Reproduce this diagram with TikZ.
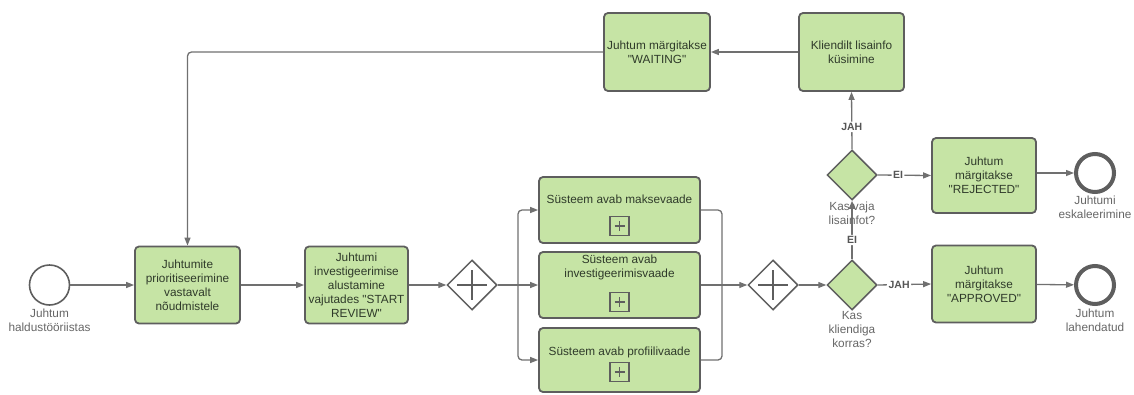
\documentclass[tikz,border=0pt]{standalone}
\usepackage{fontspec}
\setmainfont{Liberation Sans}[Ligatures=TeXOff]
\usetikzlibrary{shapes.geometric,arrows.meta}

\definecolor{taskgreen}{HTML}{C6E4A5}
\definecolor{boxline}{HTML}{5E5E5E}
\definecolor{flowline}{HTML}{707070}
\definecolor{tasktext}{HTML}{2F3A2A}
\definecolor{labeltext}{HTML}{666666}
\definecolor{edgetext}{HTML}{555555}

\newcommand{\boxfont}{\fontsize{11.8}{14}\selectfont}
\newcommand{\edgefont}{\fontsize{10.5}{12}\selectfont\bfseries}

\tikzset{
  task/.style={draw=boxline, line width=1.8pt, fill=taskgreen, rounded corners=4pt,
    text=tasktext, font=\boxfont, align=center, inner sep=1pt},
  txt/.style={text=tasktext, font=\boxfont, align=center, inner sep=0pt},
  evlabel/.style={text=labeltext, font=\boxfont, align=center, inner sep=0pt},
  elabel/.style={text=edgetext, font=\edgefont, fill=white, inner sep=1.5pt},
  startev/.style={circle, draw=boxline, line width=1.6pt, fill=white,
    minimum size=40pt, inner sep=0pt},
  endev/.style={circle, draw=boxline, line width=4pt, fill=white,
    minimum size=38pt, inner sep=0pt},
  gate/.style={diamond, draw=boxline, line width=1.5pt, minimum width=50pt,
    minimum height=50pt, inner sep=0pt},
  pargate/.style={gate, fill=white,
    path picture={\draw[boxline, line width=1.5pt]
      ([xshift=10pt]path picture bounding box.west) -- ([xshift=-10pt]path picture bounding box.east)
      ([yshift=-10pt]path picture bounding box.north) -- ([yshift=10pt]path picture bounding box.south);}},
  xgate/.style={gate, fill=taskgreen},
  plusbox/.style={rectangle, draw=boxline, line width=1.3pt, minimum size=19pt, inner sep=0pt,
    path picture={\draw[boxline, line width=1.3pt]
      ([xshift=4.5pt]path picture bounding box.west) -- ([xshift=-4.5pt]path picture bounding box.east)
      ([yshift=-4.5pt]path picture bounding box.north) -- ([yshift=4.5pt]path picture bounding box.south);}},
  flow/.style={draw=flowline, line width=1.3pt, rounded corners=4pt,
    -{Triangle[length=8pt,width=6pt]}},
  plain/.style={draw=flowline, line width=1.3pt, rounded corners=4pt},
}

\begin{document}
\begin{tikzpicture}[x=1pt, y=-1pt]
\useasboundingbox (0,0) rectangle (1134,394);

% start event and the first two tasks
\node[startev] (start) at (49.5,285) {};
\node[evlabel] (startlbl) at (49.5,320) {Juhtum\\haldustööriistas};
\node[task, minimum width=105pt, minimum height=77pt] (b1) at (187.5,285)
  {Juhtumite\\prioritiseerimine\\vastavalt\\nõudmistele};
\node[task, minimum width=103pt, minimum height=77pt] (b2) at (356.5,285)
  {Juhtumi\\investigeerimise\\alustamine\\vajutades "START\\REVIEW"};

% parallel split
\node[pargate] (g1) at (472,285) {};
\coordinate (fork) at (518,285);

% collapsed sub-processes
\node[task, minimum width=161pt, minimum height=66pt] (sA) at (619.5,210) {};
\node[txt] (sAt) at (619.5,199) {Süsteem avab maksevaade};
\node[plusbox] (sAp) at (619.5,226) {};

\node[task, minimum width=161pt, minimum height=66pt] (sB) at (619.5,285) {};
\node[txt] (sBt) at (619.5,267) {Süsteem avab\\investigeerimisvaade};
\node[plusbox] (sBp) at (619.5,302) {};

\node[task, minimum width=161pt, minimum height=64pt] (sC) at (619.5,360) {};
\node[txt] (sCt) at (619.5,352) {Süsteem avab profiilivaade};
\node[plusbox] (sCp) at (619.5,372) {};

% parallel join and decisions
\coordinate (join) at (722,285);
\node[pargate] (g2) at (773,285) {};
\node[xgate] (g3) at (852,285) {};
\node[xgate] (g4) at (852,175) {};

% outcome tasks and end events
\node[task, minimum width=104pt, minimum height=77pt] (appr) at (984,284)
  {Juhtum\\märgitakse\\"APPROVED"};
\node[task, minimum width=104pt, minimum height=75pt] (rej) at (984,175.5)
  {Juhtum\\märgitakse\\"REJECTED"};
\node[endev] (end1) at (1095,285) {};
\node[endev] (end2) at (1095,173) {};

% loop back for extra information
\node[task, minimum width=105pt, minimum height=78pt] (klient) at (851.5,52)
  {Kliendilt lisainfo\\küsimine};
\node[task, minimum width=106pt, minimum height=78pt] (wait) at (657,52)
  {Juhtum märgitakse\\"WAITING"};

% sequence flows
\draw[flow] (start) -- (b1);
\draw[flow] (b1) -- (b2);
\draw[flow] (b2) -- (g1);
\draw[plain] (g1.east) -- (fork);
\draw[flow] (fork) |- (sA.west);
\draw[flow] (fork) -- (sB.west);
\draw[flow] (fork) |- (sC.west);
\draw[plain] (sA.east) -| (join);
\draw[plain] (sC.east) -| (join);
\draw[plain] (sB.east) -- (join);
\draw[flow] (join) -- (g2.west);
\draw[flow] (g2) -- (g3);
\draw[flow] (g3.east) -- node[elabel, pos=0.4] {JAH} (appr.west);
\draw[flow] (g3.north) -- node[elabel, pos=0.33] {EI} (g4.south);
\draw[flow] (g4.east) -- node[elabel, pos=0.38] {EI} (rej.west);
\draw[flow] (g4.north) -- node[elabel, pos=0.39] {JAH} (klient.south);
\draw[flow] (appr) -- (end1);
\draw[flow] (rej.east |- end2) -- (end2);
\draw[flow] (klient) -- (wait);
\draw[flow] (wait.west) -| (b1.north);

% labels of gateways and end events
\node[evlabel] (g3lbl) at (852,329) {Kas\\kliendiga\\korras?};
\node[evlabel] (g4lbl) at (852,213) {Kas vaja\\lisainfot?};
\node[evlabel] (end1lbl) at (1095,320) {Juhtum\\lahendatud};
\node[evlabel] (end2lbl) at (1095,207) {Juhtumi\\eskaleerimine};
\end{tikzpicture}
\end{document}
